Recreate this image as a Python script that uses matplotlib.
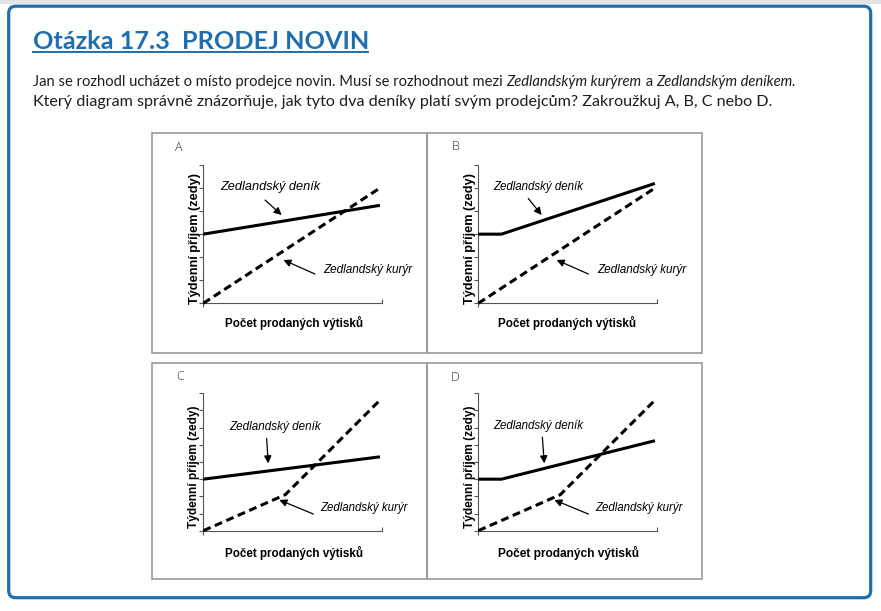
import matplotlib
matplotlib.use('Agg')
import matplotlib.pyplot as plt
from matplotlib.patches import FancyBboxPatch, Rectangle
from matplotlib.font_manager import FontProperties, findfont
from matplotlib.lines import Line2D

# ---------------- data ----------------
panel_letters = ["A", "B", "C", "D"]
y_max = [6, 6, 8, 8]

denik_x = {"A": [0, 9.9], "B": [0, 1.3, 9.9], "C": [0, 9.9], "D": [0, 1.3, 9.9]}
denik_y = {"A": [3.0, 4.25], "B": [3.0, 3.0, 5.2], "C": [3.0, 4.3], "D": [3.0, 3.0, 5.24]}
kuryr_x = {"A": [0, 9.9], "B": [0, 9.9], "C": [0, 4.6, 9.9], "D": [0, 4.6, 9.9]}
kuryr_y = {"A": [0, 5.0], "B": [0, 5.0], "C": [0, 2.1, 7.6], "D": [0, 2.1, 7.6]}

label_denik = "Zedlandský deník"
label_kuryr = "Zedlandský kurýr"
xlabel = "Počet prodaných výtisků"
ylabel = "Týdenní příjem (zedy)"

title = "Otázka 17.3  PRODEJ NOVIN"
line1 = [("Jan se rozhodl ucházet o místo prodejce novin. Musí se rozhodnout mezi ", "normal"),
         ("Zedlandským kurýrem", "italic"), (" a ", "normal"),
         ("Zedlandským deníkem.", "italic")]
line2 = [("Který diagram správně znázorňuje, jak tyto dva deníky platí svým prodejcům? "
          "Zakroužkuj A, B, C nebo D.", "normal")]

# ---------------- layout (pixels) ----------------
W, H = 881, 611
BLUE = "#1f6fb0"
TXT = "#1d1d1b"


def pick_family(candidates):
    for fam in candidates:
        try:
            findfont(FontProperties(family=fam), fallback_to_default=False)
            return fam
        except Exception:
            continue
    return "DejaVu Sans"


NARROW = pick_family(["Liberation Sans Narrow", "Lato"])

fig = plt.figure(figsize=(W / 100, H / 100), dpi=100)
fig.patch.set_facecolor("white")
bg = fig.add_axes([0, 0, 1, 1], zorder=0)
bg.set_xlim(0, W)
bg.set_ylim(H, 0)
bg.axis("off")

renderer = fig.canvas.get_renderer()


def text_width(s, fp):
    if s != s.strip():
        w1, _, _ = renderer.get_text_width_height_descent("|" + s + "|", fp, ismath=False)
        w2, _, _ = renderer.get_text_width_height_descent("||", fp, ismath=False)
        return w1 - w2
    w, _, _ = renderer.get_text_width_height_descent(s, fp, ismath=False)
    return w


def fit_size(s, target, family, weight="normal", style="normal", base=10.0):
    fp = FontProperties(family=family, weight=weight, style=style, size=base)
    return base * target / text_width(s, fp)


def draw_line(x0, y, segments, family, target_w, weight="normal", color=TXT, base=10.0):
    total = sum(text_width(s, FontProperties(family=family, style=st, weight=weight, size=base))
                for s, st in segments)
    size = base * target_w / total
    x = x0
    for s, st in segments:
        fp = FontProperties(family=family, style=st, weight=weight, size=size)
        bg.text(x, y, s, fontproperties=fp, color=color, va="baseline", ha="left")
        x += text_width(s, fp)
    return size


# top grey strip and outer rounded frame
bg.add_patch(Rectangle((0, 0), W, 4, facecolor="#e4e4e4", edgecolor="none"))
bg.add_patch(FancyBboxPatch((8.7, 6.2), 862, 591.5, boxstyle="round,pad=0,rounding_size=7",
                            facecolor="white", edgecolor=BLUE, linewidth=2.3))

# title + underline
draw_line(33, 49, [(title, "normal")], NARROW, 335, weight="bold", color=BLUE)
bg.add_line(Line2D([33, 368], [51.6, 51.6], color=BLUE, linewidth=1.4))

# question text
draw_line(33, 86, line1, NARROW, 765)
draw_line(33, 106, line2, NARROW, 741)

# panel frames
GREY = "#9a9a9a"
for (x0, y0, x1, y1) in [(152, 133, 427, 353), (427, 133, 702, 353),
                         (152, 363, 427, 579), (427, 363, 702, 579)]:
    bg.add_patch(Rectangle((x0, y0), x1 - x0, y1 - y0, facecolor="none",
                           edgecolor=GREY, linewidth=1.2))

# per-panel geometry (pixels)
axes_px = {"A": (203.3, 165.0, 381.7, 303.3), "B": (478.3, 165.0, 656.7, 303.3),
           "C": (203.3, 393.3, 381.7, 530.7), "D": (478.3, 393.3, 656.7, 530.7)}
letter_px = {"A": (178.3, 147.3), "B": (455.8, 147.0), "C": (180.0, 377.0), "D": (455.0, 377.7)}
xlabel_px = {"A": (294.2, 323.0), "B": (567.5, 323.0), "C": (294.2, 553.0), "D": (568.3, 553.0)}
ylabel_px = {"A": (194.7, 239.0), "B": (469.7, 239.0), "C": (194.0, 467.0), "D": (469.7, 467.0)}
ylabel_len = {"A": 132, "B": 132, "C": 122, "D": 122}
xlabel_len = {"A": 138, "B": 138, "C": 138, "D": 140}

# annotation placement in data coordinates
den_text = {"A": (0.93, 5.06), "B": (0.84, 5.03), "C": (1.44, 6.06), "D": (0.84, 6.1)}
den_tw = {"A": 100, "B": 91, "C": 92, "D": 91}
den_arrow = {"A": ((3.46, 4.48), (4.39, 3.83)), "B": ((2.8, 4.55), (3.55, 3.83)),
             "C": ((3.55, 5.38), (3.64, 3.92)), "D": ((3.59, 5.44), (3.7, 3.92))}
kur_text = {"A": (6.73, 1.45), "B": (6.64, 1.45), "C": (6.54, 1.3), "D": (6.58, 1.3)}
kur_tw = {"A": 90, "B": 90, "C": 88, "D": 88}
kur_arrow = {"A": ((6.26, 1.27), (4.49, 1.88)), "B": ((6.17, 1.27), (4.39, 1.88)),
             "C": ((6.17, 0.97), (4.26, 1.79)), "D": ((6.17, 0.97), (4.26, 1.79))}

AX_GREY = "#555555"
FAM = "Liberation Sans"

for i, p in enumerate(panel_letters):
    l, t, r, b = axes_px[p]
    ax = fig.add_axes([l / W, 1 - b / H, (r - l) / W, (b - t) / H], zorder=2)
    ax.set_facecolor("none")
    ax.set_xlim(0, 10)
    ax.set_ylim(0, y_max[i])
    for s in ["top", "right"]:
        ax.spines[s].set_visible(False)
    for s in ["left", "bottom"]:
        ax.spines[s].set_color(AX_GREY)
        ax.spines[s].set_linewidth(0.8)
    ax.set_yticks(range(0, y_max[i] + 1))
    ax.set_xticks([0])
    ax.set_xticks([10], minor=True)
    ax.tick_params(axis="y", direction="out", length=3.2, width=0.8, color=AX_GREY, labelleft=False)
    ax.tick_params(axis="x", which="major", direction="out", length=3.2, width=0.8,
                   color=AX_GREY, labelbottom=False)
    ax.tick_params(axis="x", which="minor", direction="in", length=3.2, width=0.8, color=AX_GREY)

    ax.plot(denik_x[p], denik_y[p], color="black", lw=2.2, solid_capstyle="butt",
            solid_joinstyle="miter", clip_on=False, zorder=3)
    ax.plot(kuryr_x[p], kuryr_y[p], color="black", lw=2.2, linestyle=(0, (2.6, 1.5)),
            dash_capstyle="butt", clip_on=False, zorder=3)

    arrowprops = dict(arrowstyle="-|>", color="black", lw=0.9, mutation_scale=11,
                      shrinkA=0, shrinkB=0)
    (tx, ty), (hx, hy) = den_arrow[p]
    ax.annotate("", xy=(hx, hy), xytext=(tx, ty), arrowprops=arrowprops, annotation_clip=False)
    (tx, ty), (hx, hy) = kur_arrow[p]
    ax.annotate("", xy=(hx, hy), xytext=(tx, ty), arrowprops=arrowprops, annotation_clip=False)

    fs = fit_size(label_denik, den_tw[p], FAM, style="italic")
    ax.text(*den_text[p], label_denik, fontsize=fs, family=FAM, style="italic",
            color="black", ha="left", va="center", clip_on=False)
    fs = fit_size(label_kuryr, kur_tw[p], FAM, style="italic")
    ax.text(*kur_text[p], label_kuryr, fontsize=fs, family=FAM, style="italic",
            color="black", ha="left", va="center", clip_on=False)

    fs = fit_size(xlabel, xlabel_len[p], FAM, weight="bold")
    bg.text(*xlabel_px[p], xlabel, fontsize=fs, family=FAM, weight="bold", color="black",
            ha="center", va="center")
    fs = fit_size(ylabel, ylabel_len[p], FAM, weight="bold")
    bg.text(*ylabel_px[p], ylabel, fontsize=fs, family=FAM, weight="bold", color="black",
            ha="center", va="center", rotation=90)

    bg.text(*letter_px[p], p, fontsize=9, family="Open Sans", weight="light", color="#333333",
            ha="center", va="center")

fig.savefig("out.png", dpi=100, facecolor="white")
